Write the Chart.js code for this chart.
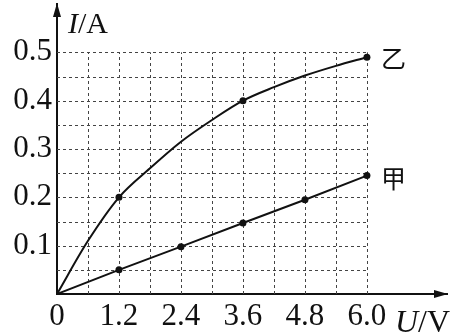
<!DOCTYPE html>
<html>
<head>
<meta charset="utf-8">
<script src="https://cdn.jsdelivr.net/npm/chart.js@4"></script>
<style>html,body{margin:0;background:#fff}</style>
</head>
<body>
<canvas id="c" width="454" height="334"></canvas>
<script>
// data
const voltageJia = [0, 1.2, 2.4, 3.6, 4.8, 6.0];
const currentJia = [0, 0.05, 0.098, 0.147, 0.195, 0.245];
const voltageYi = [0, 0.6, 1.2, 1.8, 2.4, 3.0, 3.6, 4.2, 4.8, 5.4, 6.0];
const currentYi = [0, 0.11, 0.2, 0.26, 0.315, 0.36, 0.4, 0.428, 0.452, 0.472, 0.49];
const markedYi = [1.2, 3.6, 6.0];
const xTicks = [0, 1.2, 2.4, 3.6, 4.8, 6.0];
const xTickLabels = ['0', '1.2', '2.4', '3.6', '4.8', '6.0'];
const yTicks = [0.1, 0.2, 0.3, 0.4, 0.5];
const yTickLabels = ['0.1', '0.2', '0.3', '0.4', '0.5'];
const gridX = [0.6, 1.2, 1.8, 2.4, 3.0, 3.6, 4.2, 4.8, 5.4, 6.0];
const gridY = [0.05, 0.1, 0.15, 0.2, 0.25, 0.3, 0.35, 0.4, 0.45, 0.5];

const SERIF = '"Liberation Serif", "DejaVu Serif", serif';
const ink = '#111';

// dashed grid, arrows, axis names, curve names
const decor = {
  id: 'decor',
  beforeDatasetsDraw(chart) {
    const { ctx, scales: { x, y } } = chart;
    const x0 = x.getPixelForValue(0), x1 = x.getPixelForValue(6);
    const y0 = y.getPixelForValue(0), y1 = y.getPixelForValue(0.5);
    ctx.save();
    ctx.strokeStyle = '#444';
    ctx.lineWidth = 1;
    ctx.setLineDash([3, 3]);
    ctx.beginPath();
    gridX.forEach(v => {
      const px = Math.round(x.getPixelForValue(v)) + 0.5;
      ctx.moveTo(px, y0); ctx.lineTo(px, y1);
    });
    gridY.forEach(v => {
      const py = Math.round(y.getPixelForValue(v)) + 0.5;
      ctx.moveTo(x0, py); ctx.lineTo(x1, py);
    });
    ctx.stroke();
    ctx.restore();
  },
  afterDraw(chart) {
    const { ctx, chartArea: a } = chart;
    ctx.save();
    ctx.fillStyle = ink;
    // arrow heads
    ctx.beginPath();
    ctx.moveTo(a.left, a.top - 1);
    ctx.lineTo(a.left - 4, a.top + 13);
    ctx.lineTo(a.left + 4, a.top + 13);
    ctx.closePath();
    ctx.moveTo(a.right + 1, a.bottom);
    ctx.lineTo(a.right - 13, a.bottom - 4);
    ctx.lineTo(a.right - 13, a.bottom + 4);
    ctx.closePath();
    ctx.fill();

    // axis names
    ctx.textBaseline = 'alphabetic';
    ctx.textAlign = 'left';
    ctx.font = 'italic 30px ' + SERIF;
    ctx.fillText('I', 68, 33);
    let w = ctx.measureText('I').width;
    ctx.font = '30px ' + SERIF;
    ctx.fillText('/A', 68 + w, 33);

    ctx.font = 'italic 32px ' + SERIF;
    ctx.fillText('U', 395, 332);
    w = ctx.measureText('U').width;
    ctx.font = '32px ' + SERIF;
    ctx.fillText('/V', 395 + w, 332);

    // curve names
    ctx.font = '25px "Noto Sans CJK SC"';
    ctx.textBaseline = 'middle';
    ctx.fillText('乙', 381, 58);
    ctx.fillText('甲', 381, 178);
    ctx.restore();
  }
};

new Chart(document.getElementById('c'), {
  type: 'line',
  data: {
    datasets: [
      {
        label: '甲',
        data: voltageJia.map((v, i) => ({ x: v, y: currentJia[i] })),
        borderColor: ink,
        borderWidth: 2,
        pointRadius: voltageJia.map(v => v === 0 ? 0 : 3.5),
        pointBackgroundColor: ink,
        pointBorderWidth: 0,
        tension: 0
      },
      {
        label: '乙',
        data: voltageYi.map((v, i) => ({ x: v, y: currentYi[i] })),
        borderColor: ink,
        borderWidth: 2,
        pointRadius: voltageYi.map(v => markedYi.includes(v) ? 3.5 : 0),
        pointBackgroundColor: ink,
        pointBorderWidth: 0,
        cubicInterpolationMode: 'monotone'
      }
    ]
  },
  options: {
    responsive: false,
    animation: false,
    layout: { padding: { top: 4, right: 7 } },
    plugins: { legend: { display: false }, tooltip: { enabled: false } },
    scales: {
      x: {
        type: 'linear',
        min: 0,
        max: 7.55,
        afterFit: s => { s.height = 40; s.paddingLeft = 0; s.paddingRight = 0; },
        afterBuildTicks: s => { s.ticks = xTicks.map(v => ({ value: v })); },
        grid: { display: false, drawTicks: false },
        border: { display: true, color: ink, width: 2 },
        ticks: {
          autoSkip: false,
          maxRotation: 0,
          padding: 4,
          color: ink,
          font: { family: SERIF, size: 31 },
          callback: (v, i) => xTickLabels[i]
        }
      },
      y: {
        min: 0,
        max: 0.6,
        afterFit: s => { s.width = 57; s.paddingTop = 0; s.paddingBottom = 0; },
        afterBuildTicks: s => { s.ticks = yTicks.map(v => ({ value: v })); },
        grid: { display: false, drawTicks: false },
        border: { display: true, color: ink, width: 2 },
        ticks: {
          autoSkip: false,
          padding: 5,
          color: ink,
          font: { family: SERIF, size: 31 },
          callback: (v, i) => yTickLabels[i]
        }
      }
    }
  },
  plugins: [decor]
});
</script>
</body>
</html>
